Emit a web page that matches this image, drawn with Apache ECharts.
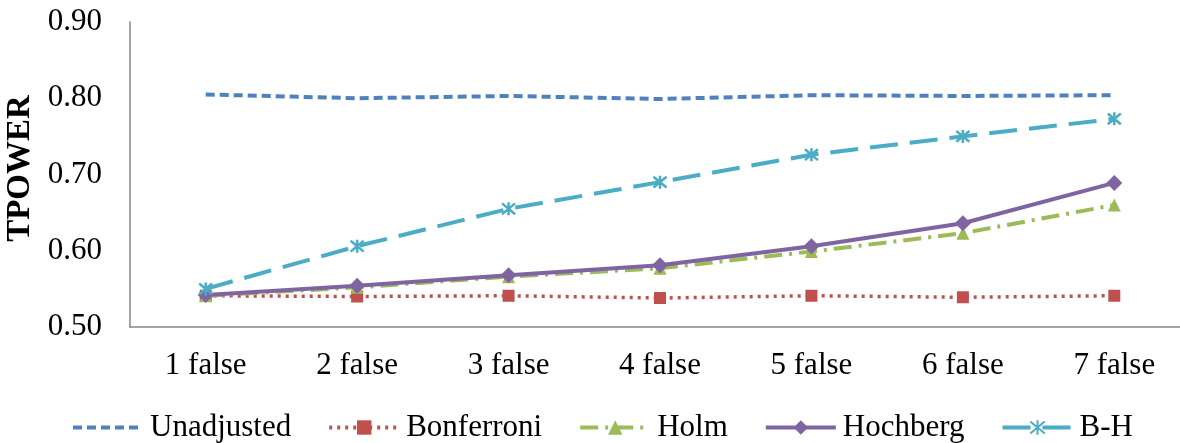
<!DOCTYPE html>
<html><head><meta charset="utf-8">
<script src="https://cdn.jsdelivr.net/npm/echarts@6/dist/echarts.min.js"></script>
<style>html,body{margin:0;padding:0;background:#fff}#c{width:1180px;height:443px}</style>
</head><body><div id="c"></div>
<script>
const categories = ['1 false','2 false','3 false','4 false','5 false','6 false','7 false'];
const unadjusted = [0.805,0.800,0.803,0.799,0.804,0.803,0.804];
const bonferroni = [0.541,0.540,0.541,0.538,0.541,0.539,0.541];
const holm       = [0.541,0.552,0.566,0.577,0.599,0.623,0.660];
const hochberg   = [0.542,0.554,0.568,0.581,0.606,0.636,0.689];
const bh         = [0.550,0.606,0.655,0.690,0.726,0.750,0.773];
const yTicks = {min:0.5, max:0.9, interval:0.1};

const FONT = '"Liberation Serif","Times New Roman",serif';
const asterisk = 'path://M0,0L10,10M10,0L0,10M5,-1L5,11';

const chart = echarts.init(document.getElementById('c'), null, {renderer:'canvas'});
chart.setOption({
  animation:false,
  backgroundColor:'#fff',
  grid:{left:130, top:22, bottom:116, width:1060, containLabel:false, outerBoundsMode:'none'},
  legend:{
    left:66, top:407, itemWidth:70, itemHeight:18, itemGap:36,
    lineStyle:{width:4},
    textStyle:{fontFamily:FONT, fontSize:31, color:'#000', padding:[0,0,0,2]},
    data:[{name:'Unadjusted', itemStyle:{opacity:0}},'Bonferroni','Holm','Hochberg','B-H']
  },
  xAxis:{
    type:'category', data:categories, boundaryGap:true,
    axisLine:{lineStyle:{color:'#868686', width:1.5}},
    axisTick:{show:false},
    axisLabel:{fontFamily:FONT, fontSize:31, color:'#000', margin:23}
  },
  yAxis:{
    type:'value', min:yTicks.min, max:yTicks.max, interval:yTicks.interval,
    name:'TPOWER', nameLocation:'middle', nameGap:90, nameRotate:90,
    nameTextStyle:{fontFamily:FONT, fontSize:33, fontWeight:'bold', color:'#000', padding:[0,0,0,12]},
    axisLine:{show:true, lineStyle:{color:'#868686', width:1.5}},
    axisTick:{show:false},
    splitLine:{show:false},
    axisLabel:{fontFamily:FONT, fontSize:31, color:'#000', margin:28,
      formatter:v=>v.toFixed(2)}
  },
  series:[
    {name:'Unadjusted', type:'line', data:unadjusted, symbol:'none',
     color:'#4F81BD', lineStyle:{width:4, type:[9,5], color:'#4F81BD'}},
    {name:'Bonferroni', type:'line', data:bonferroni, symbol:'rect', symbolSize:12,
     color:'#C0504D', itemStyle:{color:'#C0504D'},
     lineStyle:{width:3.5, type:[3,5], color:'#C0504D'}},
    {name:'Holm', type:'line', data:holm, symbol:'triangle', symbolSize:13,
     color:'#9BBB59', itemStyle:{color:'#9BBB59'},
     lineStyle:{width:4, type:[18,7,3,7], color:'#9BBB59'}},
    {name:'Hochberg', type:'line', data:hochberg, symbol:'diamond', symbolSize:16,
     color:'#8064A2', itemStyle:{color:'#8064A2'},
     lineStyle:{width:4, type:'solid', color:'#8064A2'}},
    {name:'B-H', type:'line', data:bh, symbol:asterisk, symbolSize:13,
     color:'#4BACC6', itemStyle:{color:'rgba(0,0,0,0)', borderColor:'#4BACC6', borderWidth:2.5},
     lineStyle:{width:4, type:[28,12], color:'#4BACC6'}}
  ]
});
</script></body></html>
